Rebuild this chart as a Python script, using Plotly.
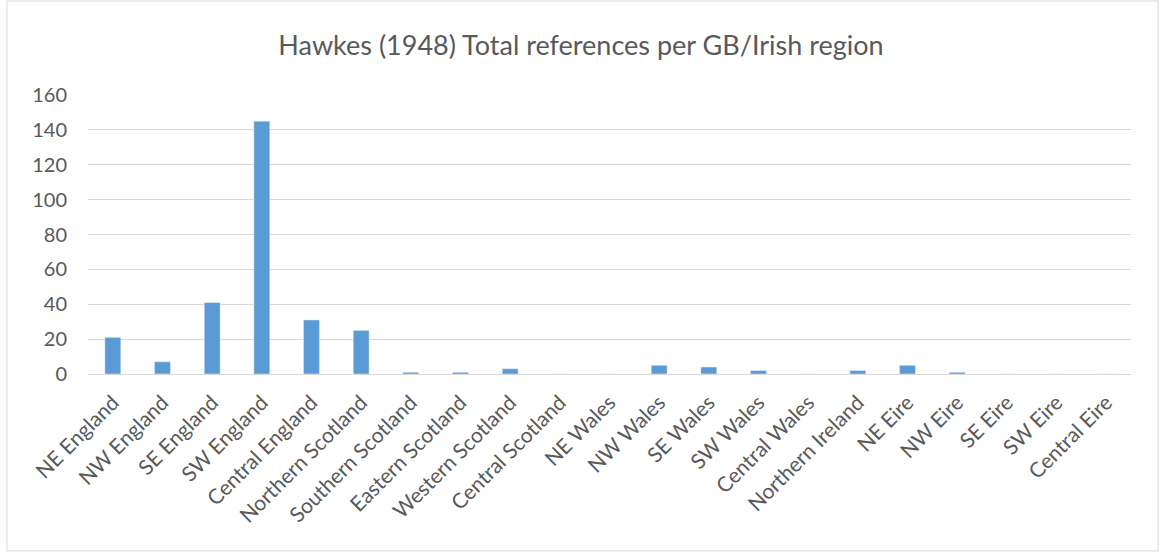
import plotly.graph_objects as go

# Regions and their total reference counts
regions = [
    "NE England", "NW England", "SE England", "SW England", "Central England",
    "Northern Scotland", "Southern Scotland", "Eastern Scotland", "Western Scotland",
    "Central Scotland", "NE Wales", "NW Wales", "SE Wales", "SW Wales", "Central Wales",
    "Northern Ireland", "NE Eire", "NW Eire", "SE Eire", "SW Eire", "Central Eire",
]
references = [21, 7, 41, 145, 31, 25, 1, 1, 3, 0, 0, 5, 4, 2, 0, 2, 5, 1, 0, 0, 0]

y_ticks = [0, 20, 40, 60, 80, 100, 120, 140, 160]

grey = "#595959"
font_family = "Lato, 'Open Sans', sans-serif"

fig = go.Figure()
fig.add_trace(go.Bar(
    x=regions,
    y=references,
    marker=dict(color="#5b9bd5"),
    width=0.32,
))

fig.update_layout(
    width=1162,
    height=552,
    paper_bgcolor="white",
    plot_bgcolor="white",
    margin=dict(l=88, r=31, t=95, b=178),
    showlegend=False,
    title=dict(
        text="Hawkes (1948) Total references per GB/Irish region",
        x=0.5, xanchor="center", y=0.918, yanchor="middle",
        font=dict(family=font_family, size=27, color=grey),
    ),
    font=dict(family=font_family, color=grey),
)

fig.update_xaxes(
    tickangle=-45,
    tickfont=dict(size=21, color=grey),
    ticklabelstandoff=7,
    showline=True, linecolor="#d9d9d9", linewidth=1,
    showgrid=False, ticks="",
)
fig.update_yaxes(
    range=[0, 160],
    tickvals=y_ticks,
    tickfont=dict(size=20, color=grey),
    ticklabelstandoff=20,
    showgrid=True, gridcolor="#d9d9d9", gridwidth=1,
    zeroline=False, ticks="", ticklen=0,
    showline=False,
)

# Light border around the whole chart area, as in the original
fig.add_shape(
    type="rect", xref="paper", yref="paper",
    x0=-0.0777, x1=1.026, y0=-0.634, y1=1.337,
    line=dict(color="#d9d9d9", width=1),
    fillcolor="rgba(0,0,0,0)", layer="below",
)

# drop the browser's default body margin so the figure sits at the page corner
fig.write_html("out.html", config={"displayModeBar": False},
               post_script="document.body.style.margin='0';")
